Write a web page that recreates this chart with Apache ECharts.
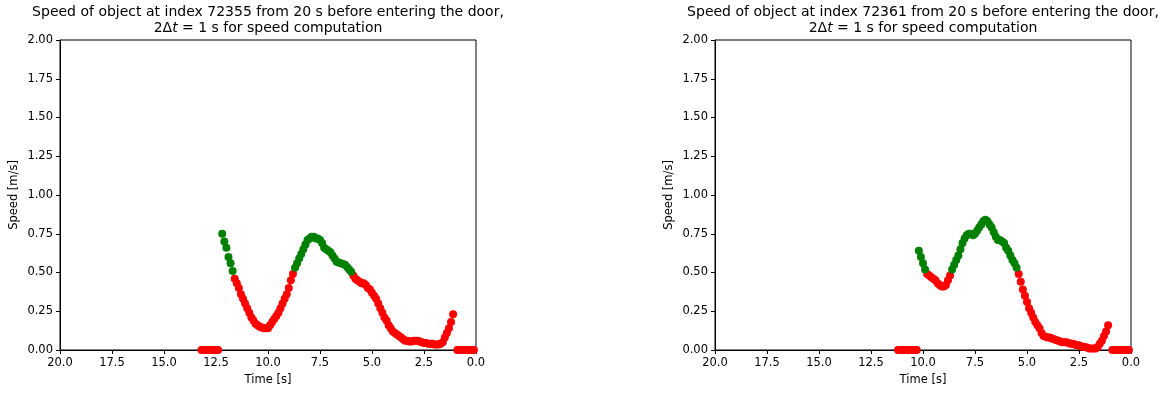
<!DOCTYPE html>
<html>
<head>
<meta charset="utf-8">
<script src="https://cdn.jsdelivr.net/npm/echarts@6/dist/echarts.min.js"></script>
<style>
  html, body { margin: 0; padding: 0; background: #fff; }
  #chart { width: 1164px; height: 394px; }
</style>
</head>
<body>
<div id="chart"></div>
<script>
// object 72355 (left panel)
const timeA = [
  13.2, 13.1, 13.0, 12.9, 12.8, 12.7, 12.6, 12.5, 12.4,
  12.2, 12.1, 12.0, 11.9, 11.8, 11.7,
  11.6, 11.5, 11.4, 11.3, 11.2, 11.1, 11.0, 10.9, 10.8, 10.7, 10.6, 10.5, 10.4, 10.3, 10.2,
  10.1, 10.0, 9.9, 9.8, 9.7, 9.6, 9.5, 9.4, 9.3, 9.2, 9.1, 9.0, 8.9, 8.8,
  8.7, 8.6, 8.5, 8.4, 8.3, 8.2, 8.1, 8.0, 7.9, 7.8, 7.7, 7.6, 7.5, 7.4, 7.3, 7.2, 7.1, 7.0,
  6.9, 6.8, 6.7, 6.6, 6.5, 6.4, 6.3, 6.2, 6.1, 6.0,
  5.9, 5.8, 5.7, 5.6, 5.5, 5.4, 5.3, 5.2, 5.1, 5.0, 4.9, 4.8, 4.7, 4.6, 4.5, 4.4, 4.3, 4.2,
  4.1, 4.0, 3.9, 3.8, 3.7, 3.6, 3.5, 3.4, 3.3, 3.2, 3.1, 3.0, 2.9, 2.8, 2.7, 2.6, 2.5, 2.4,
  2.3, 2.2, 2.1, 2.0, 1.9, 1.8, 1.7, 1.6, 1.5, 1.4, 1.3, 1.2, 1.1,
  0.9, 0.8, 0.7, 0.6, 0.5, 0.4, 0.3, 0.2, 0.1
];
const speedA = [
  0, 0, 0, 0, 0, 0, 0, 0, 0,
  0.75, 0.70, 0.66, 0.60, 0.56, 0.51,
  0.46, 0.43, 0.40, 0.36, 0.33, 0.30, 0.27, 0.24, 0.21, 0.19, 0.17, 0.16, 0.15, 0.145, 0.14,
  0.14, 0.14, 0.16, 0.18, 0.20, 0.22, 0.24, 0.27, 0.30, 0.33, 0.36, 0.40, 0.45, 0.49,
  0.53, 0.56, 0.59, 0.62, 0.65, 0.68, 0.71, 0.72, 0.73, 0.73, 0.72, 0.72, 0.71, 0.69, 0.66, 0.65, 0.64, 0.63,
  0.61, 0.59, 0.57, 0.565, 0.56, 0.555, 0.55, 0.535, 0.52, 0.505,
  0.48, 0.46, 0.45, 0.44, 0.43, 0.43, 0.42, 0.40, 0.39, 0.37, 0.35, 0.33, 0.30, 0.27, 0.24, 0.21, 0.19, 0.16,
  0.14, 0.12, 0.11, 0.10, 0.09, 0.08, 0.07, 0.06, 0.06, 0.055, 0.055, 0.06, 0.06, 0.06, 0.055, 0.05, 0.045, 0.045,
  0.04, 0.04, 0.04, 0.035, 0.035, 0.035, 0.04, 0.05, 0.08, 0.11, 0.14, 0.18, 0.23,
  0, 0, 0, 0, 0, 0, 0, 0, 0
];

// object 72361 (right panel)
const timeB = [
  11.2, 11.1, 11.0, 10.9, 10.8, 10.7, 10.6, 10.5, 10.4, 10.3,
  10.2, 10.1, 10.0, 9.9,
  9.8, 9.7, 9.6, 9.5, 9.4, 9.3, 9.2, 9.1, 9.0, 8.9, 8.8, 8.7,
  8.6, 8.5, 8.4, 8.3, 8.2, 8.1, 8.0, 7.9, 7.8, 7.7, 7.6, 7.5, 7.4, 7.3, 7.2, 7.1,
  7.0, 6.9, 6.8, 6.7, 6.6, 6.5, 6.4, 6.3, 6.2, 6.1, 6.0, 5.9, 5.8, 5.7, 5.6, 5.5,
  5.4, 5.3, 5.2, 5.1, 5.0, 4.9, 4.8, 4.7, 4.6, 4.5, 4.4, 4.3, 4.2, 4.1, 4.0,
  3.9, 3.8, 3.7, 3.6, 3.5, 3.4, 3.3, 3.2, 3.1, 3.0, 2.9, 2.8, 2.7, 2.6, 2.5,
  2.4, 2.3, 2.2, 2.1, 2.0, 1.9, 1.8, 1.7, 1.6, 1.5, 1.4, 1.3, 1.2, 1.1,
  0.9, 0.8, 0.7, 0.6, 0.5, 0.4, 0.3, 0.2, 0.1
];
const speedB = [
  0, 0, 0, 0, 0, 0, 0, 0, 0, 0,
  0.64, 0.60, 0.56, 0.52,
  0.49, 0.48, 0.47, 0.46, 0.45, 0.43, 0.42, 0.41, 0.41, 0.42, 0.45, 0.48,
  0.52, 0.55, 0.58, 0.61, 0.65, 0.69, 0.72, 0.74, 0.75, 0.75, 0.74, 0.75, 0.77, 0.79, 0.81, 0.83,
  0.84, 0.83, 0.81, 0.79, 0.76, 0.73, 0.71, 0.71, 0.70, 0.69, 0.66, 0.64, 0.61, 0.58, 0.56, 0.53,
  0.49, 0.44, 0.39, 0.35, 0.31, 0.27, 0.24, 0.21, 0.18, 0.16, 0.14, 0.11, 0.09, 0.085, 0.08,
  0.08, 0.075, 0.07, 0.065, 0.06, 0.055, 0.05, 0.05, 0.05, 0.045, 0.04, 0.04, 0.035, 0.03, 0.03,
  0.025, 0.02, 0.02, 0.015, 0.01, 0.01, 0.01, 0.01, 0.02, 0.04, 0.06, 0.09, 0.12, 0.16,
  0, 0, 0, 0, 0, 0, 0, 0, 0
];

const objectIds = ['72355', '72361'];
const xTicks = [20.0, 17.5, 15.0, 12.5, 10.0, 7.5, 5.0, 2.5, 0.0];
const yTicks = [0.00, 0.25, 0.50, 0.75, 1.00, 1.25, 1.50, 1.75, 2.00];
const threshold = 0.5; // above -> green, else red

const font = 'DejaVu Sans';
const chart = echarts.init(document.getElementById('chart'));

function split(times, speeds) {
  let green = [], red = [];
  times.forEach((t, i) => {
    if (speeds[i] > threshold) green.push([t, speeds[i]]);
    else red.push([t, speeds[i]]);
  });
  return {green, red};
}

const panels = [split(timeA, speedA), split(timeB, speedB)];
const grids = [{left: 60, top: 40, width: 416, height: 310}, {left: 715, top: 40, width: 416, height: 310}];

let option = {
  backgroundColor: '#fff',
  animation: false,
  textStyle: {fontFamily: font, color: '#000'},
  title: grids.map((g, i) => ({
    text: 'Speed of object at index ' + objectIds[i] + ' from 20 s before entering the door,\n'
      + '{n|2Δ}{it|t}{n| = 1 s for speed computation}',
    left: g.left + g.width / 2 - 5,
    top: -1,
    textAlign: 'center',
    textStyle: {
      fontFamily: font, fontSize: 14, fontWeight: 'normal', color: '#000', lineHeight: 16,
      rich: {
        n: {fontFamily: font, fontSize: 14, color: '#000', lineHeight: 16},
        it: {fontFamily: font, fontSize: 14, fontStyle: 'italic', color: '#000', lineHeight: 16}
      }
    }
  })),
  grid: grids.map(g => Object.assign({show: true, borderColor: '#000', borderWidth: 1, backgroundColor: '#fff'}, g)),
  xAxis: grids.map((g, i) => ({
    type: 'value',
    gridIndex: i,
    inverse: true,
    min: 0,
    max: 20,
    interval: 2.5,
    name: 'Time [s]',
    nameLocation: 'middle',
    nameGap: 23,
    nameTextStyle: {fontFamily: font, fontSize: 11.5, color: '#000'},
    axisLine: {show: true, onZero: false, lineStyle: {color: '#000', width: 1}},
    axisTick: {show: true, length: 4, lineStyle: {color: '#000'}},
    axisLabel: {margin: 7, fontFamily: font, fontSize: 11.5, color: '#000', formatter: v => v.toFixed(1)},
    splitLine: {show: false}
  })),
  yAxis: grids.map((g, i) => ({
    type: 'value',
    gridIndex: i,
    min: 0,
    max: 2,
    interval: 0.25,
    name: 'Speed [m/s]',
    nameLocation: 'middle',
    nameGap: 40,
    nameTextStyle: {fontFamily: font, fontSize: 11.5, color: '#000'},
    axisLine: {show: true, onZero: false, lineStyle: {color: '#000', width: 1}},
    axisTick: {show: true, length: 4, lineStyle: {color: '#000'}},
    axisLabel: {margin: 7, fontFamily: font, fontSize: 11.5, color: '#000', formatter: v => v.toFixed(2)},
    splitLine: {show: false}
  })),
  series: []
};

panels.forEach((p, i) => {
  option.series.push({
    type: 'scatter', xAxisIndex: i, yAxisIndex: i, symbolSize: 8,
    itemStyle: {color: '#ff0000', opacity: 1}, data: p.red
  });
  option.series.push({
    type: 'scatter', xAxisIndex: i, yAxisIndex: i, symbolSize: 8,
    itemStyle: {color: '#008000', opacity: 1}, data: p.green
  });
});

chart.setOption(option);
</script>
</body>
</html>
